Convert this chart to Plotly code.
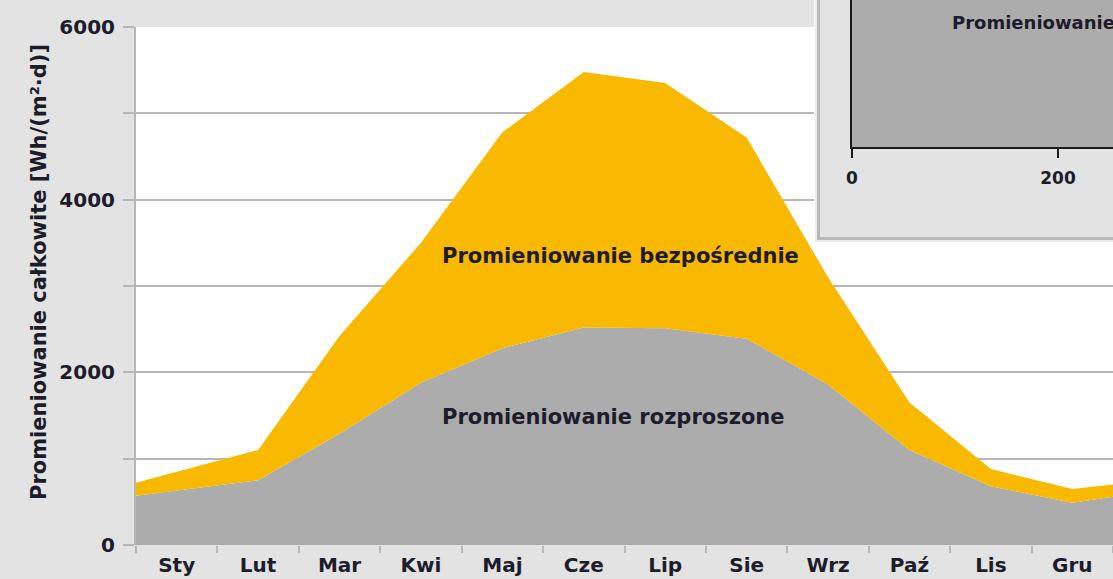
import plotly.graph_objects as go

# month labels (category centres at 0..11)
months = ["Sty", "Lut", "Mar", "Kwi", "Maj", "Cze", "Lip", "Sie", "Wrz", "Paź", "Lis", "Gru"]

# outline vertices (x in month units, edges at -0.5 / 11.5)
x_pts = [-0.5, 1, 2, 3, 4, 5, 6, 7, 8, 9, 10, 11, 11.5]
total = [720, 1100, 2420, 3500, 4780, 5480, 5350, 4720, 3100, 1650, 880, 650, 700]
diffuse = [570, 750, 1290, 1880, 2280, 2520, 2510, 2390, 1860, 1100, 680, 490, 560]

y_ticks = [0, 1000, 2000, 3000, 4000, 5000, 6000]
y_ticktext = ["0", "", "2000", "", "4000", "", "6000"]

# inset (only its lower left corner is visible)
inset_x = [0, 400]
inset_y = [1, 1]
inset_ticks = [0, 200]

YELLOW = "#f9b900"
GREY = "#acacac"
BG = "#e2e3e2"
GRID = "#b6b6b6"
TXT = "#1c1c2a"
FONT = dict(family="DejaVu Sans", size=20, color=TXT, weight="bold")

W, H = 1113, 579
L, B = 136, 34
pw, ph = W - L, H - B


def px_x(v):
    return (v - L) / pw


def px_y(v):
    return (ph - v) / ph


fig = go.Figure()

fig.add_trace(go.Scatter(
    x=x_pts, y=diffuse, mode="lines", line=dict(width=0, color=GREY),
    fill="tozeroy", fillcolor=GREY, name="Promieniowanie rozproszone",
    hoverinfo="skip",
))
fig.add_trace(go.Scatter(
    x=x_pts, y=total, mode="lines", line=dict(width=0, color=YELLOW),
    fill="tonexty", fillcolor=YELLOW, name="Promieniowanie bezpośrednie",
    hoverinfo="skip",
))

# inset panel (soft shadow + panel) drawn as its own subplot so it sits above the main grid
fig.add_trace(go.Scatter(
    x=[815, 1120, 1120, 815, 815], y=[-5, -5, 242, 242, -5],
    fill="toself", fillcolor="rgba(0,0,0,0.07)", line=dict(width=0),
    mode="lines", xaxis="x2", yaxis="y2", hoverinfo="skip", showlegend=False,
))
fig.add_trace(go.Scatter(
    x=[817, 1120, 1120, 817, 817], y=[-5, -5, 240, 240, -5],
    fill="toself", fillcolor="rgba(0,0,0,0.22)", line=dict(width=0),
    mode="lines", xaxis="x2", yaxis="y2", hoverinfo="skip", showlegend=False,
))
fig.add_trace(go.Scatter(
    x=[820, 1120, 1120, 820, 820], y=[-5, -5, 237, 237, -5],
    fill="toself", fillcolor=BG, line=dict(width=0),
    mode="lines", xaxis="x2", yaxis="y2", hoverinfo="skip", showlegend=False,
))

fig.add_trace(go.Scatter(
    x=inset_x, y=inset_y, mode="lines", line=dict(width=0, color=GREY),
    fill="tozeroy", fillcolor=GREY, xaxis="x3", yaxis="y3",
    hoverinfo="skip", showlegend=False,
))

fig.add_annotation(x=3.23, y=3350, xref="x", yref="y", xanchor="left",
                   text="Promieniowanie bezpośrednie", showarrow=False,
                   font=dict(FONT, size=21))
fig.add_annotation(x=3.23, y=1480, xref="x", yref="y", xanchor="left",
                   text="Promieniowanie rozproszone", showarrow=False,
                   font=dict(FONT, size=21))
fig.add_annotation(x=95, y=0.85, xref="x3", yref="y3", xanchor="left",
                   text="Promieniowanie rozproszone", showarrow=False,
                   font=dict(FONT, size=18))
fig.add_annotation(x=px_x(25), y=px_y(272), xref="paper", yref="paper",
                   text="Promieniowanie całkowite [Wh/(m²·d)]", textangle=-90,
                   showarrow=False, font=dict(FONT, size=21))

fig.update_layout(
    width=W, height=H,
    margin=dict(l=L, r=0, t=0, b=B, autoexpand=False),
    paper_bgcolor=BG, plot_bgcolor="white",
    showlegend=False,
    font=FONT,
    xaxis=dict(
        range=[-0.5, 11.5], tickvals=list(range(12)), ticktext=months,
        ticks="", showgrid=False, zeroline=False, showline=False,
        ticklabelstandoff=6, tickfont=FONT, automargin=False,
        minor=dict(tickvals=[i - 0.5 for i in range(13)], ticks="outside",
                   ticklen=7, tickwidth=2, tickcolor=GRID, showgrid=False),
    ),
    yaxis=dict(
        domain=[0, (ph - 27) / ph], range=[0, 6000],
        tickvals=y_ticks, ticktext=y_ticktext,
        ticks="outside", ticklen=11, tickwidth=2, tickcolor=GRID,
        showgrid=True, gridcolor=GRID, gridwidth=1.5,
        showline=True, linecolor=GRID, linewidth=2,
        zeroline=False, tickfont=FONT, ticklabelstandoff=4, automargin=False,
    ),
    xaxis2=dict(domain=[px_x(814), 1], range=[814, 1113], visible=False,
                fixedrange=True, automargin=False),
    yaxis2=dict(domain=[px_y(242), 1], range=[242, 0], visible=False,
                fixedrange=True, automargin=False),
    xaxis3=dict(
        domain=[px_x(852), 1], range=[0, 253.4], tickvals=inset_ticks,
        ticks="outside", ticklen=9, tickwidth=2, tickcolor="#1a1a1a",
        showline=True, linecolor="#1a1a1a", linewidth=2, showgrid=False,
        zeroline=False, tickfont=dict(FONT, size=17), ticklabelstandoff=6,
        anchor="y3", automargin=False,
    ),
    yaxis3=dict(
        domain=[px_y(147), 1], range=[0, 1], showticklabels=False, ticks="",
        showline=True, linecolor="#1a1a1a", linewidth=2, showgrid=False,
        zeroline=False, anchor="x3", automargin=False,
    ),
)

fig.write_html("out.html", config={"displayModeBar": False},
               post_script="document.body.style.margin='0';")
